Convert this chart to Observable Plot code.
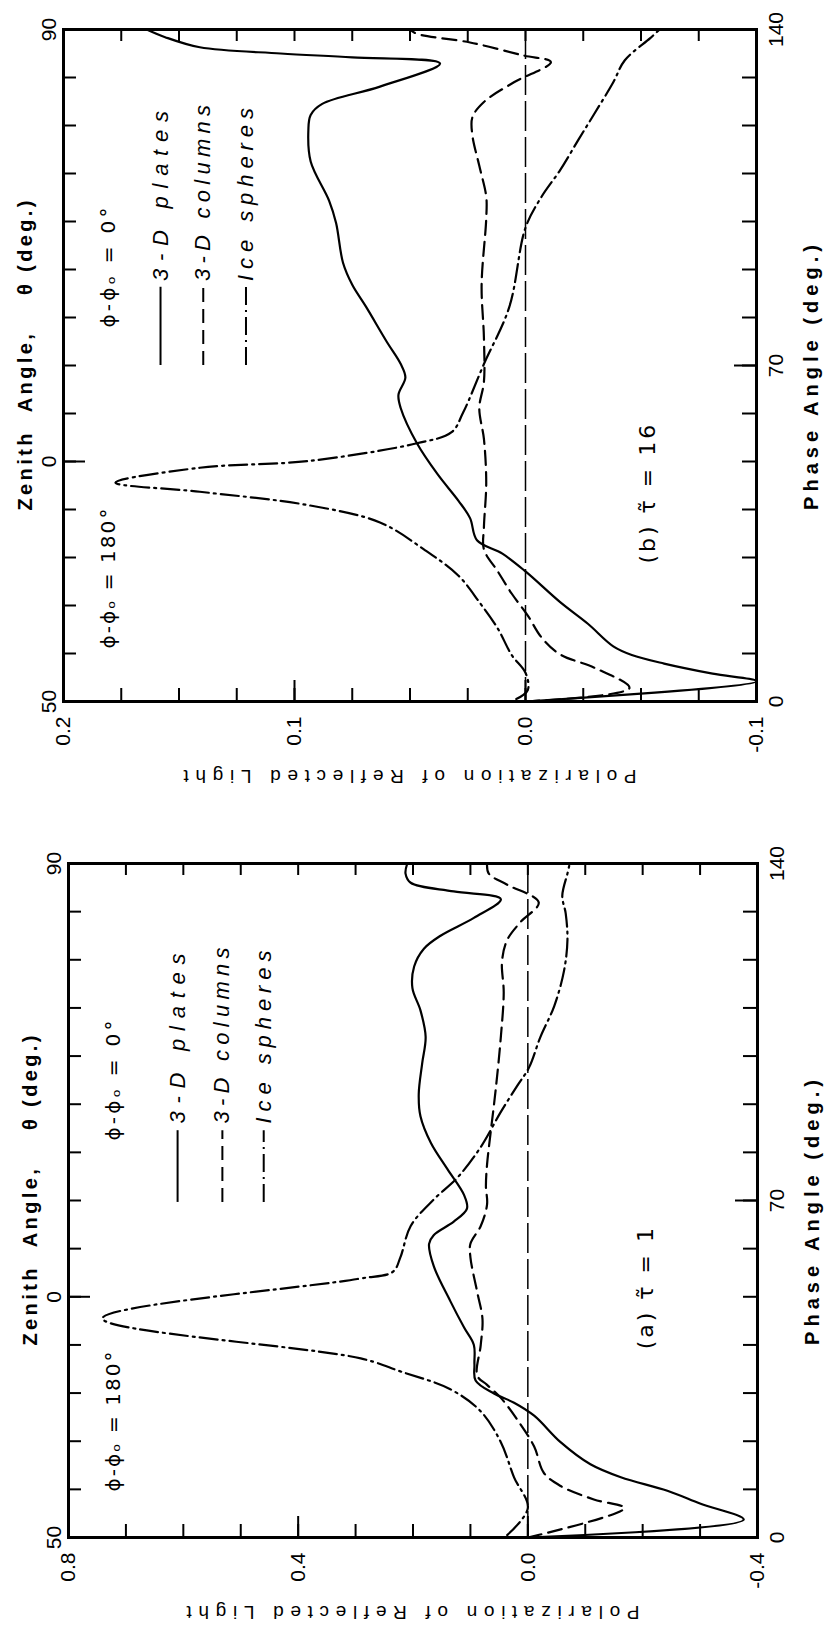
<!DOCTYPE html>
<html>
<head>
<meta charset="utf-8">
<script src="https://cdn.jsdelivr.net/npm/d3@7"></script>
<script src="https://cdn.jsdelivr.net/npm/@observablehq/plot@0.6"></script>
<style>
  html, body { margin: 0; padding: 0; background: #ffffff; }
  #figure svg { display: block; }
</style>
</head>
<body>
<div id="figure"></div>
<script>
// ---------------- data ----------------
const seriesNames = ["3-D plates", "3-D columns", "Ice spheres"];

const phaseTicks = [0, 10, 20, 30, 40, 50, 60, 70, 80, 90, 100, 110, 120, 130, 140];
const phaseTickLabels = [0, 70, 140];
const zenithTickPhase = [0, 50, 140];
const zenithTickLabels = ["50", "0", "90"];

// Panel (b): optical depth 16
const bPolTicks = [0.2, 0.175, 0.15, 0.125, 0.1, 0.075, 0.05, 0.025, 0, -0.025, -0.05, -0.075, -0.1];
const bPolLongTicks = [0.1, 0];
const bPolTickLabels = [0.2, 0.1, 0, -0.1];

const bPlatesPhase = [0, 4.2, 5.8, 7.9, 9.7, 11.5, 16.2, 20.7, 27.1, 30.8, 33.6, 38.2, 41.8, 47.3, 53.8, 61.1, 63.9, 67.5, 70.3, 74.9, 82.2, 86.8, 91.4, 99.7, 104.3, 112.5, 119.0, 122.2, 124.5, 128.1, 132.9, 134.2, 135.0, 136.3, 138.4, 140];
const bPlatesPol   = [0.0, -0.1, -0.081, -0.06, -0.046, -0.038, -0.027, -0.015, 0.0, 0.01, 0.021, 0.024, 0.029, 0.038, 0.047, 0.054, 0.055, 0.052, 0.054, 0.06, 0.069, 0.075, 0.079, 0.082, 0.085, 0.093, 0.094, 0.093, 0.088, 0.063, 0.037, 0.075, 0.106, 0.141, 0.156, 0.164];

const bColumnsPhase = [0, 2.8, 7.0, 9.8, 13.3, 17.9, 22.5, 27.1, 31.7, 36.3, 45.5, 54.7, 61.1, 66.6, 75.8, 86.8, 100.6, 105.2, 111.6, 118.0, 121.7, 124.9, 129.0, 133.2, 134.6, 137.3, 139.1, 140];
const bColumnsPol   = [0.0, -0.045, -0.030, -0.015, -0.007, -0.001, 0.006, 0.012, 0.018, 0.018, 0.017, 0.018, 0.020, 0.018, 0.018, 0.019, 0.017, 0.017, 0.020, 0.023, 0.023, 0.018, 0.005, -0.011, 0.001, 0.024, 0.047, 0.050];

const bSpheresPhase = [0.5, 2.4, 6.0, 9.7, 15.2, 20.7, 26.2, 31.7, 37.3, 40.9, 43.7, 45.6, 48.7, 50.1, 53.8, 56.1, 60.2, 70.3, 82.2, 98.7, 105.2, 110.7, 117.1, 122.6, 129.0, 133.6, 138.2, 140];
const bSpheresPol   = [0.004, -0.001, 0.0, 0.006, 0.012, 0.020, 0.029, 0.044, 0.063, 0.094, 0.141, 0.1775, 0.141, 0.094, 0.047, 0.032, 0.027, 0.018, 0.007, 0.0, -0.007, -0.015, -0.023, -0.030, -0.038, -0.043, -0.054, -0.058];

// Panel (a): optical depth 1
const aPolTicks = [0.8, 0.7, 0.6, 0.5, 0.4, 0.3, 0.2, 0.1, 0, -0.1, -0.2, -0.3, -0.4];
const aPolLongTicks = [0.4, 0];
const aPolTickLabels = [0.8, 0.4, 0, -0.4];

const aPlatesPhase = [0, 3.7, 7.0, 9.7, 12.5, 15.2, 19.8, 25.3, 28.0, 29.9, 32.6, 36.0, 40.0, 43.6, 49.1, 56.4, 61.0, 62.8, 65.6, 68.3, 71.1, 76.5, 82.0, 87.5, 92.1, 98.5, 104.0, 109.5, 114.1, 118.6, 122.3, 125.0, 128.7, 132.6, 134.2, 136.0, 137.9, 140.0];
const aPlatesPol   = [0.0, -0.376, -0.301, -0.243, -0.162, -0.109, -0.057, -0.011, 0.024, 0.059, 0.091, 0.093, 0.094, 0.111, 0.135, 0.164, 0.172, 0.164, 0.129, 0.106, 0.111, 0.140, 0.169, 0.187, 0.190, 0.184, 0.178, 0.187, 0.201, 0.198, 0.181, 0.152, 0.094, 0.047, 0.129, 0.204, 0.213, 0.210];

const aColumnsPhase = [0, 6.1, 7.9, 10.7, 13.4, 18.9, 24.4, 29.0, 31.7, 33.6, 40.0, 45.4, 50.9, 58.2, 61.0, 64.7, 69.2, 72.9, 77.5, 83.9, 93.0, 104.0, 113.2, 119.6, 124.1, 127.8, 131.9, 135.6, 137.9, 140];
const aColumnsPol   = [0.0, -0.168, -0.115, -0.057, -0.028, -0.011, 0.018, 0.047, 0.071, 0.088, 0.082, 0.079, 0.088, 0.100, 0.100, 0.082, 0.071, 0.073, 0.071, 0.065, 0.056, 0.047, 0.042, 0.045, 0.036, 0.013, -0.019, 0.036, 0.068, 0.071];

const aSpheresPhase = [0.5, 6.1, 12.5, 19.8, 26.2, 30.8, 34.5, 37.2, 45.5, 53.7, 55.2, 58.2, 64.7, 70.2, 74.7, 81.1, 88.4, 93.9, 97.6, 104.0, 110.4, 117.7, 124.1, 129.6, 133.3, 137.9, 139.5];
const aSpheresPol   = [0.036, 0.0, 0.024, 0.047, 0.082, 0.135, 0.222, 0.291, 0.741, 0.297, 0.235, 0.222, 0.204, 0.164, 0.123, 0.082, 0.047, 0.018, -0.002, -0.022, -0.046, -0.063, -0.069, -0.066, -0.060, -0.069, -0.072];

// ---------------- text ----------------
const NB = "\u00a0";
const zenithTitle = "Zenith" + NB + NB + "Angle," + NB + NB + NB + NB + "θ" + NB + "(deg.)";
const phaseTitle = "Phase Angle (deg.)";
const polTitle = "Polarization of Reflected Light";
const phi0Text = "ϕ-ϕₒ = 0°";
const phi180Text = "ϕ-ϕₒ = 180°";

// ---------------- drawing ----------------
const dashes = [undefined, "14,7", "18,5,2,5"];
const FONT = "Liberation Sans, Arial, sans-serif";
const toRows = (phase, pol) => phase.map((p, i) => ({phase: p, pol: pol[i]}));

function panel(cfg) {
  const fw = cfg.width - cfg.ml - cfg.mr;
  const fh = cfg.height - cfg.mt - cfg.mb;
  const series = [
    toRows(cfg.plates[0], cfg.plates[1]),
    toRows(cfg.columns[0], cfg.columns[1]),
    toRows(cfg.spheres[0], cfg.spheres[1])
  ];
  const ink = {stroke: "black"};
  const marks = [
    Plot.ruleX([0], {...ink, strokeWidth: 1.5, strokeDasharray: "30,6"}),
    ...series.map((rows, i) => Plot.line(rows, {x: "pol", y: "phase", ...ink, strokeWidth: 2.2, strokeDasharray: dashes[i], curve: "catmull-rom"})),
    // inward ticks on all four sides
    Plot.ruleX(cfg.polTicks, {...ink, strokeWidth: 2, insetTop: fh - 13}),
    Plot.ruleX(cfg.polLong, {...ink, strokeWidth: 2, insetTop: fh - 21}),
    Plot.ruleX(cfg.polTicks, {...ink, strokeWidth: 2, insetBottom: fh - 12}),
    Plot.ruleY(phaseTicks, {...ink, strokeWidth: 2, insetRight: fw - 13}),
    Plot.ruleY([zenithTickPhase[1]], {...ink, strokeWidth: 2, insetRight: fw - 22}),
    Plot.ruleY(phaseTicks, {...ink, strokeWidth: 2, insetLeft: fw - 14}),
    Plot.ruleY([phaseTickLabels[1]], {...ink, strokeWidth: 2, insetLeft: fw - 22}),
    Plot.frame({...ink, strokeWidth: 3}),
    // axes (labels only)
    Plot.axisX(cfg.polLabels, {anchor: "bottom", tickSize: 0, tickPadding: 15, tickRotate: -90, textAnchor: "end", lineAnchor: "middle", tickFormat: d => d.toFixed(1), label: null, fontSize: 21}),
    Plot.axisY(zenithTickPhase, {anchor: "left", tickSize: 0, tickPadding: 8, tickRotate: -90, textAnchor: "middle", lineAnchor: "bottom", tickFormat: d => zenithTickLabels[zenithTickPhase.indexOf(d)], label: null, fontSize: 21}),
    Plot.axisY(phaseTickLabels, {anchor: "right", tickSize: 0, tickPadding: 12, tickRotate: -90, textAnchor: "middle", lineAnchor: "top", tickFormat: d => String(d), label: null, fontSize: 21}),
    // axis titles
    Plot.text([zenithTitle], {frameAnchor: "left", dx: -38, dy: -10, rotate: -90, textAnchor: "middle", lineAnchor: "middle", fontSize: 20, fontWeight: "bold"}),
    Plot.text([phaseTitle], {frameAnchor: "right", dx: 55, dy: 12, rotate: -90, textAnchor: "middle", lineAnchor: "middle", fontSize: 20, fontWeight: "bold"}),
    Plot.text([polTitle], {frameAnchor: "bottom", dy: 75, rotate: 180, textAnchor: "middle", lineAnchor: "middle", fontSize: 19}),
    // annotations
    Plot.text([phi0Text], {x: cfg.phiX, y: cfg.phi0Y, rotate: -90, fontSize: 20, fontFamily: "DejaVu Sans"}),
    Plot.text([phi180Text], {x: cfg.phiX, y: cfg.phi180Y, rotate: -90, fontSize: 20, fontFamily: "DejaVu Sans"}),
    Plot.text([cfg.tag], {x: cfg.tagX, y: cfg.tagY, rotate: -90, fontSize: 22, fontFamily: "DejaVu Sans"}),
    // legend
    ...seriesNames.map((name, i) => Plot.ruleX([cfg.legX[i]], {y1: cfg.legY1, y2: cfg.legY2, ...ink, strokeWidth: 2, strokeDasharray: dashes[i]})),
    ...seriesNames.map((name, i) => Plot.text([name], {x: cfg.legX[i], y: cfg.legTextY, rotate: -90, textAnchor: "start", lineAnchor: "middle", fontSize: 22, fontStyle: "italic"}))
  ];
  const svg = Plot.plot({
    width: cfg.width, height: cfg.height,
    marginTop: cfg.mt, marginRight: cfg.mr, marginBottom: cfg.mb, marginLeft: cfg.ml,
    x: {domain: cfg.xDomain, axis: null},
    y: {domain: [0, 140], axis: null},
    style: {fontFamily: FONT, fontSize: "20px", color: "black", background: "white", overflow: "visible"},
    marks
  });
  const lengths = {};
  lengths[zenithTitle] = 310; lengths[phaseTitle] = 265; lengths[polTitle] = 453;
  lengths[seriesNames[0]] = 170; lengths[seriesNames[1]] = 176; lengths[seriesNames[2]] = 173;
  lengths[phi0Text] = 120; lengths[phi180Text] = 140;
  svg.querySelectorAll("text").forEach(t => {
    const s = t.textContent;
    if (lengths[s]) { t.setAttribute("textLength", lengths[s]); t.setAttribute("lengthAdjust", "spacing"); }
    if (s === cfg.tag) t.style.letterSpacing = "3px";
  });
  return svg;
}

const fig = document.getElementById("figure");
fig.appendChild(panel({
  width: 830, height: 834, mt: 29, mr: 74, mb: 133, ml: 63,
  xDomain: [0.2, -0.1], polTicks: bPolTicks, polLong: bPolLongTicks, polLabels: bPolTickLabels,
  plates: [bPlatesPhase, bPlatesPol], columns: [bColumnsPhase, bColumnsPol], spheres: [bSpheresPhase, bSpheresPol],
  phiX: 0.1805, phi0Y: 90.4, phi180Y: 25.6,
  tag: "(b) τ̃ = 16", tagX: -0.053, tagY: 43.5,
  legX: [0.158, 0.1395, 0.121], legY1: 70, legY2: 86.3, legTextY: 87.6
}));
fig.appendChild(panel({
  width: 830, height: 796, mt: 29, mr: 73, mb: 93, ml: 68,
  xDomain: [0.8, -0.4], polTicks: aPolTicks, polLong: aPolLongTicks, polLabels: aPolTickLabels,
  plates: [aPlatesPhase, aPlatesPol], columns: [aColumnsPhase, aColumnsPol], spheres: [aSpheresPhase, aSpheresPol],
  phiX: 0.722, phi0Y: 94.9, phi180Y: 24.1,
  tag: "(a) τ̃ = 1", tagX: -0.205, tagY: 52,
  legX: [0.610, 0.532, 0.460], legY1: 69.6, legY2: 84.5, legTextY: 86
}));
</script>
</body>
</html>
